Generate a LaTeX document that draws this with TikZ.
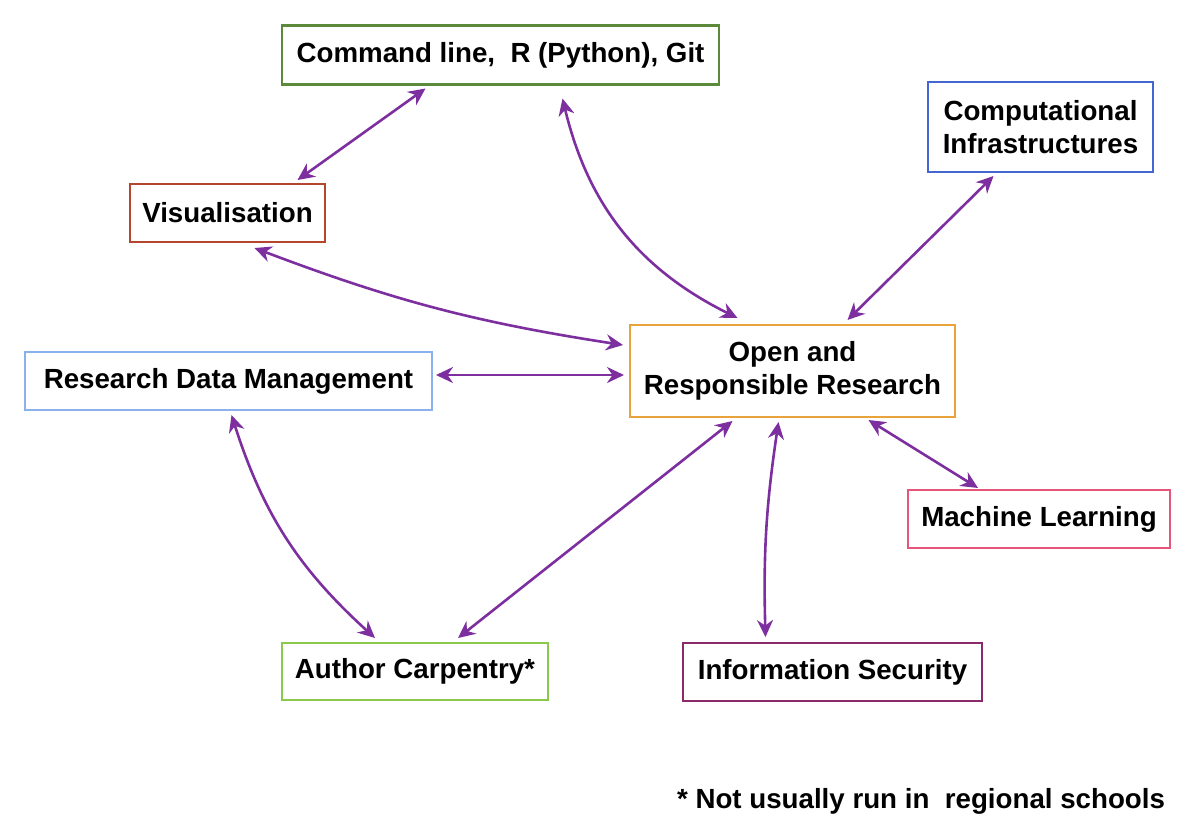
\documentclass[tikz,border=0pt]{standalone}
\usepackage{fontspec}
\setmainfont{Liberation Sans}
\usetikzlibrary{arrows.meta,calc}

\definecolor{linkpurple}{HTML}{7D2FA0}
\definecolor{cmdgreen}{HTML}{5A8A3A}
\definecolor{visred}{HTML}{B5462E}
\definecolor{compblue}{HTML}{4466D0}
\definecolor{orrorange}{HTML}{E8A33A}
\definecolor{rdmblue}{HTML}{8AB0EE}
\definecolor{mlpink}{HTML}{E4567A}
\definecolor{acgreen}{HTML}{8CC84B}
\definecolor{ismagenta}{HTML}{8B2A6B}

\begin{document}
\begin{tikzpicture}[x=0.5pt,y=-0.5pt,
	box/.style={draw,line width=1.2pt,fill=white,inner sep=0,outer sep=0,align=center,minimum height=29pt,font=\fontsize{13.85}{16.5}\selectfont\bfseries},
	link/.style={draw=linkpurple,line width=1.3pt,{Stealth[length=8.5pt,width=8pt]}-{Stealth[length=8.5pt,width=8pt]}}]
	\useasboundingbox (0,0) rectangle (1200,837);
	\node[box,draw=cmdgreen,minimum width=218.5pt,minimum height=29.5pt] (cmd) at (500.5,55) {Command line,\ \ R (Python), Git};
	\node[box,draw=visred,minimum width=97.5pt] (vis) at (227.5,213) {Visualisation};
	\node[box,draw=compblue,minimum width=112.5pt,minimum height=45pt] (comp) at (1040.5,127) {Computational\\Infrastructures};
	\node[box,draw=orrorange,minimum width=162.5pt,minimum height=46pt] (orr) at (792.5,371) {Open and\\Responsible Research};
	\node[box,draw=rdmblue,minimum width=203.5pt] (rdm) at (228.5,381) {Research Data Management};
	\node[box,draw=mlpink,minimum width=131pt] (ml) at (1039,519) {Machine Learning};
	\node[box,draw=acgreen,minimum width=133pt,minimum height=28.5pt] (ac) at (415,671.5) {Author Carpentry*};
	\node[box,draw=ismagenta,minimum width=149.5pt] (is) at (832.5,672) {Information Security};
	\node[font=\fontsize{13.85}{16.5}\selectfont\bfseries] (note) at (921,801) {* Not usually run in\ \ regional schools};
	\draw[link] ($(cmd.south)+(-75,4)$) -- ($(vis.north)+(70,-4)$);
	\draw[link] ($(cmd.south)+(62,14)$) to[bend right=25] ($(orr.north)+(-55,-7)$);
	\draw[link] ($(comp.south)+(-47,4)$) -- ($(orr.north)+(55,-5)$);
	\draw[link] ($(vis.south)+(27,6)$) to[bend right=6] ($(orr.west)+(-7,-26)$);
	\draw[link] ($(rdm.east)+(4,-6)$) -- ($(orr.west)+(-6,4)$);
	\draw[link] ($(rdm.south)+(3,5)$) to[bend right=15] ($(ac.north)+(-40,-5)$);
	\draw[link] ($(orr.south)+(-60,4)$) -- ($(ac.north)+(43,-5)$);
	\draw[link] ($(orr.south)+(-14,5)$) to[bend right=5] ($(is.north)+(-67,-6)$);
	\draw[link] ($(orr.south)+(76,3)$) -- ($(ml.north)+(-61,-2)$);
\end{tikzpicture}
\end{document}
